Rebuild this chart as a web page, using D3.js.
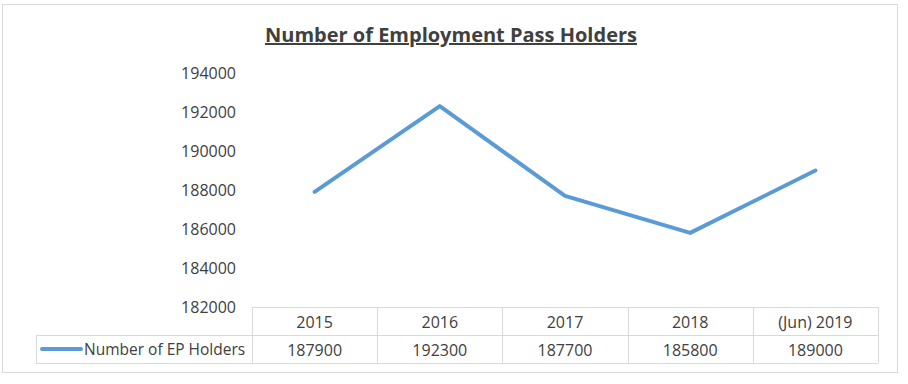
<!doctype html>
<html>
<head>
  <title>Number of Employment Pass Holders</title>
  <script src="https://d3js.org/d3.v7.min.js"></script>
  <style>
    body { margin: 0; padding: 0; background: #fff; }
    svg text { font-family: "Open Sans", "Noto Sans", sans-serif; fill: #404040; }
    .grid line { stroke: #d9d9d9; stroke-width: 1; }
  </style>
</head>
<body>
  <div id="container"></div>
  <script>
  // data
  var years = ["2015", "2016", "2017", "2018", "(Jun) 2019"]
  var holders = [187900, 192300, 187700, 185800, 189000]
  var yTicks = [182000, 184000, 186000, 188000, 190000, 192000, 194000]
  var seriesName = "Number of EP Holders"

  var width = 908, height = 384
  var svg = d3.select("#container").append("svg")
      .attr("width", width)
      .attr("height", height)

  // chart border
  svg.append("rect")
      .attr("x", 2.5).attr("y", 4.5)
      .attr("width", 895).attr("height", 368)
      .attr("fill", "#fff")
      .attr("stroke", "#d9d9d9")

  // title
  svg.append("text")
      .attr("x", 451).attr("y", 42)
      .attr("text-anchor", "middle")
      .style("font-size", "20px")
      .style("font-weight", "bold")
      .style("text-decoration", "underline")
      .text("Number of Employment Pass Holders")

  var x = d3.scaleBand().domain(years).range([252, 878])
  var y = d3.scaleLinear().domain([182000, 194000]).range([307, 73])

  // y axis labels (no axis line)
  svg.append("g").selectAll("text")
    .data(yTicks).enter().append("text")
      .attr("x", 236)
      .attr("y", d => y(d))
      .attr("dy", "0.35em")
      .attr("text-anchor", "end")
      .style("font-size", "16px")
      .text(d => d)

  // line
  var line = d3.line()
      .x((d, i) => x(years[i]) + x.bandwidth() / 2)
      .y(d => y(d))

  svg.append("path")
      .datum(holders)
      .attr("d", line)
      .attr("fill", "none")
      .attr("stroke", "#5b9bd5")
      .attr("stroke-width", 4)
      .attr("stroke-linecap", "round")
      .attr("stroke-linejoin", "round")

  // data table
  var rowTop = 307, rowMid = 335, rowBot = 363, legendLeft = 36
  var grid = svg.append("g").attr("class", "grid")
  grid.append("line").attr("x1", x.range()[0]).attr("x2", x.range()[1]).attr("y1", rowTop + 0.5).attr("y2", rowTop + 0.5)
  grid.append("line").attr("x1", legendLeft).attr("x2", x.range()[1]).attr("y1", rowMid + 0.5).attr("y2", rowMid + 0.5)
  grid.append("line").attr("x1", legendLeft).attr("x2", x.range()[1]).attr("y1", rowBot + 0.5).attr("y2", rowBot + 0.5)
  grid.append("line").attr("x1", legendLeft + 0.5).attr("x2", legendLeft + 0.5).attr("y1", rowMid).attr("y2", rowBot)
  grid.selectAll(".col").data(years.concat(["end"])).enter().append("line")
      .attr("x1", d => Math.round(d === "end" ? x.range()[1] : x(d)) + 0.5)
      .attr("x2", d => Math.round(d === "end" ? x.range()[1] : x(d)) + 0.5)
      .attr("y1", rowTop).attr("y2", rowBot)

  svg.append("g").selectAll("text")
    .data(years).enter().append("text")
      .attr("x", d => x(d) + x.bandwidth() / 2)
      .attr("y", (rowTop + rowMid) / 2 + 1)
      .attr("dy", "0.35em")
      .attr("text-anchor", "middle")
      .style("font-size", "16px")
      .text(d => d)

  svg.append("g").selectAll("text")
    .data(holders).enter().append("text")
      .attr("x", (d, i) => x(years[i]) + x.bandwidth() / 2)
      .attr("y", (rowMid + rowBot) / 2 + 1)
      .attr("dy", "0.35em")
      .attr("text-anchor", "middle")
      .style("font-size", "16px")
      .text(d => d)

  // legend key
  svg.append("line")
      .attr("x1", 42).attr("x2", 81)
      .attr("y1", (rowMid + rowBot) / 2).attr("y2", (rowMid + rowBot) / 2)
      .attr("stroke", "#5b9bd5")
      .attr("stroke-width", 4)
      .attr("stroke-linecap", "round")
  svg.append("text")
      .attr("x", 84)
      .attr("y", (rowMid + rowBot) / 2 + 1)
      .attr("dy", "0.35em")
      .style("font-size", "15.5px")
      .text(seriesName)
  </script>
</body>
</html>
